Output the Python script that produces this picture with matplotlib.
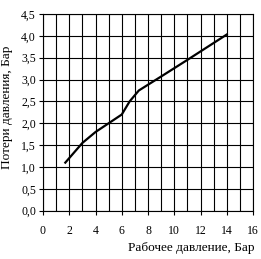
import matplotlib
matplotlib.use("Agg")
import matplotlib.pyplot as plt
from matplotlib.ticker import MultipleLocator, FuncFormatter

# Working pressure (bar) vs pressure loss (bar)
work_pressure = [1.7, 3.0, 4.0, 5.0, 6.0, 6.6, 7.3, 9.0, 11.0, 14.0]
pressure_loss = [1.1, 1.55, 1.8, 2.0, 2.2, 2.5, 2.75, 3.07, 3.45, 4.03]

x_label = "Рабочее давление, Бар"
y_label = "Потери давления, Бар"

plt.rcParams['font.family'] = ['Liberation Serif', 'DejaVu Serif']

fig = plt.figure(figsize=(2.61, 2.59), dpi=100)
ax = fig.add_axes([43 / 261, 1 - 210.7 / 259, 210 / 261, 196.7 / 259])

ax.plot(work_pressure, pressure_loss, color='black', linewidth=1.6)

ax.set_xlim(0, 16)
ax.set_ylim(0, 4.5)
ax.xaxis.set_major_locator(MultipleLocator(2))
ax.xaxis.set_minor_locator(MultipleLocator(1))
ax.yaxis.set_major_locator(MultipleLocator(0.5))
ax.yaxis.set_major_formatter(FuncFormatter(lambda v, p: f"{v:.1f}".replace('.', ',')))

ax.grid(True, which='both', axis='x', color='black', linewidth=0.8)
ax.grid(True, which='major', axis='y', color='black', linewidth=0.8)
ax.tick_params(axis='both', which='major', labelsize=8.5, length=3, width=0.8,
               color='black', direction='out')
ax.tick_params(axis='x', which='major', pad=7)
ax.tick_params(axis='y', which='major', pad=2)
ax.tick_params(axis='x', which='minor', length=0)
for s in ax.spines.values():
    s.set_linewidth(0.8)
    s.set_color('black')

fig.text(191 / 261, 1 - 248 / 259, x_label, ha='center', va='center', fontsize=9.5)
fig.text(7 / 261, 1 - 107 / 259, y_label, ha='center', va='center',
         rotation=90, fontsize=9.5)

fig.savefig("out.png", dpi=100)
